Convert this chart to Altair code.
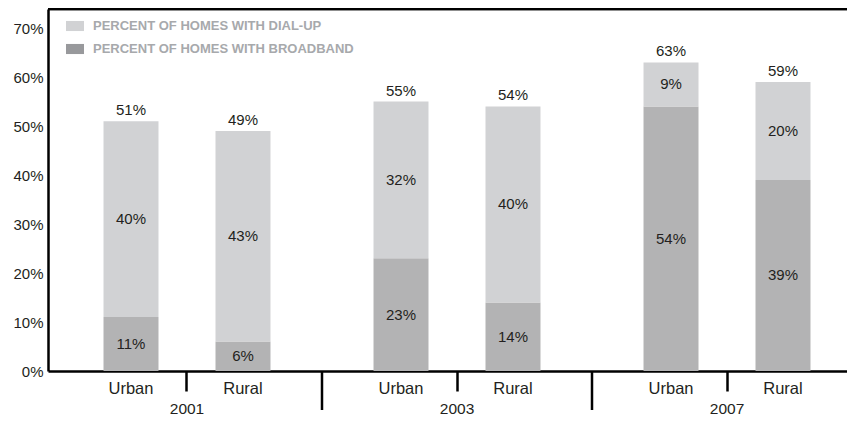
import altair as alt
import pandas as pd

# ---- data ----
years = ["2001", "2001", "2003", "2003", "2007", "2007"]
locations = ["Urban", "Rural", "Urban", "Rural", "Urban", "Rural"]
broadband = [11, 6, 23, 14, 54, 39]
dialup = [40, 43, 32, 40, 9, 20]
series = ["PERCENT OF HOMES WITH DIAL-UP", "PERCENT OF HOMES WITH BROADBAND"]
year_domain = ["2001", "2003", "2007"]
loc_domain = ["Urban", "Rural"]
y_ticks = [0, 10, 20, 30, 40, 50, 60, 70]
separator_years = ["2003", "2007"]

rows = []
for yr, loc, b, d in zip(years, locations, broadband, dialup):
    rows.append({"year": yr, "location": loc, "series": series[1], "value": b, "order": 0})
    rows.append({"year": yr, "location": loc, "series": series[0], "value": d, "order": 1})
df = pd.DataFrame(rows)
loc_df = pd.DataFrame({"year": years, "location": locations})
sep_df = pd.DataFrame({"year": separator_years})

FONT = "Liberation Sans"
TXT = "#231f20"
W, H = 799, 362

x_scale = alt.Scale(domain=year_domain, range=[0, 818], paddingInner=0, paddingOuter=0.0148)
xo_scale = alt.Scale(domain=loc_domain, paddingInner=0.509, paddingOuter=0.46)
y_scale = alt.Scale(domain=[0, 73.9], nice=False, zero=True)
bar_colors = alt.Scale(domain=series, range=["#d1d2d4", "#b3b3b4"])
legend_colors = alt.Scale(domain=series, range=["#d1d2d4", "#98999c"])

x_enc = alt.X(
    "year:N",
    scale=x_scale,
    sort=year_domain,
    axis=alt.Axis(
        title=None, labelAngle=0, labelFont=FONT, labelFontSize=15.5, labelColor=TXT,
        labelPadding=10, tickSize=20, tickWidth=2.5, tickColor="black",
        domainColor="black", domainWidth=2.5, grid=False,
    ),
)
xo_enc = alt.XOffset("location:N", scale=xo_scale, sort=loc_domain)
y_enc = alt.Y(
    "value:Q", stack="zero", scale=y_scale,
    axis=alt.Axis(
        title=None, values=y_ticks, labelExpr="datum.value + '%'", ticks=False,
        grid=False, domainColor="black", domainWidth=2.5, labelPadding=5,
        labelFont=FONT, labelFontSize=15, labelColor=TXT,
    ),
)

base = alt.Chart(df)

bars = base.mark_bar().encode(
    x=x_enc,
    xOffset=xo_enc,
    y=y_enc,
    color=alt.Color("series:N", scale=bar_colors, legend=None),
    order=alt.Order("order:Q"),
)

legend_layer = base.mark_bar(opacity=0).encode(
    x=alt.X("year:N"),
    xOffset=alt.XOffset("location:N"),
    y=alt.Y("value:Q", stack="zero"),
    fill=alt.Fill(
        "series:N", scale=legend_colors,
        legend=alt.Legend(
            title=None, orient="none", legendX=18, legendY=8,
            symbolType="M-1,-0.56H1V0.56H-1Z", symbolSize=324, symbolStrokeWidth=0,
            symbolOpacity=1, labelFont=FONT, labelFontWeight="bold",
            labelFontSize=13, labelColor="#a7a9ac", labelOffset=9, rowPadding=7,
            padding=0, labelLimit=400,
        ),
    ),
    order=alt.Order("order:Q"),
)

segments = base.transform_window(
    cum="sum(value)", groupby=["year", "location"], sort=[alt.SortField("order")],
    frame=[None, 0],
).transform_calculate(
    mid="datum.cum - datum.value / 2", label="datum.value + '%'"
).mark_text(font=FONT, fontSize=15, color=TXT, baseline="middle").encode(
    x=alt.X("year:N"), xOffset=alt.XOffset("location:N"), y=alt.Y("mid:Q"), text="label:N"
)

totals = base.transform_aggregate(
    total="sum(value)", groupby=["year", "location"]
).transform_calculate(label="datum.total + '%'").mark_text(
    font=FONT, fontSize=15, color=TXT, baseline="alphabetic", dy=-6
).encode(
    x=alt.X("year:N"), xOffset=alt.XOffset("location:N"), y=alt.Y("total:Q"), text="label:N"
)

loc_labels = alt.Chart(loc_df).mark_text(
    font=FONT, fontSize=16.5, color=TXT, baseline="middle"
).encode(
    x=alt.X("year:N"), xOffset=alt.XOffset("location:N"), y=alt.value(H + 18), text="location:N"
)

separators = alt.Chart(sep_df).mark_rule(color="black", strokeWidth=2.5).encode(
    x=alt.X("year:N", bandPosition=0), y=alt.value(H), y2=alt.value(H + 39)
)

top_rule = alt.Chart(sep_df).mark_rule(color="black", strokeWidth=2.5).encode(
    x=alt.value(0), x2=alt.value(W), y=alt.value(0)
)

chart = alt.layer(
    bars, legend_layer, segments, totals, loc_labels, separators, top_rule
).resolve_scale(color="independent", fill="independent").properties(
    width=W, height=H,
    autosize=alt.AutoSizeParams(type="none"),
    padding={"left": 40, "top": 1, "right": 0, "bottom": 46},
).configure_view(stroke=None)

chart.save("out.html", embed_options={"renderer": "svg", "actions": False})
